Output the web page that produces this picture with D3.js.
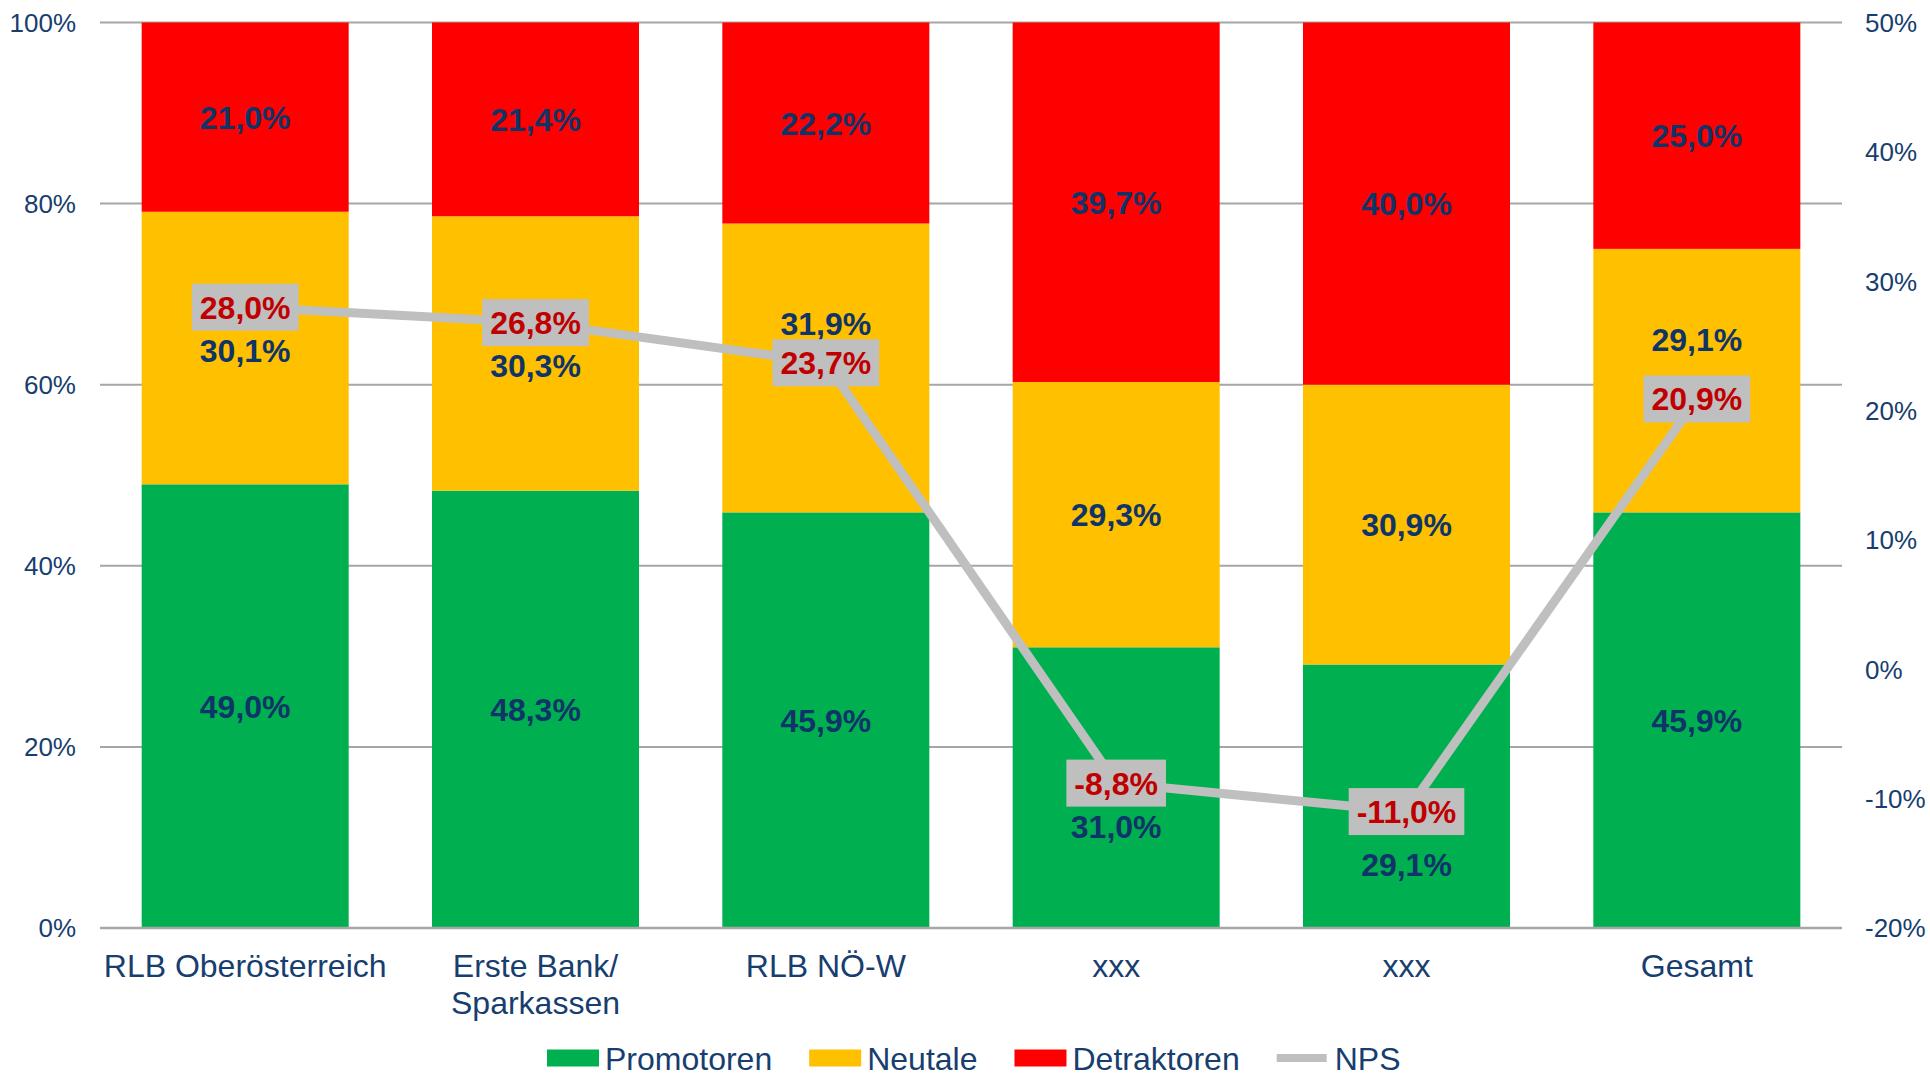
<!DOCTYPE html>
<html>
<head>
<meta charset="utf-8">
<script src="https://cdn.jsdelivr.net/npm/d3@7"></script>
<style>
  html, body { margin: 0; padding: 0; background: #ffffff; }
  svg { display: block; }
  text { font-family: "Liberation Sans", Arial, sans-serif; }
</style>
</head>
<body>
<svg id="chart" width="1930" height="1078"></svg>
<script>
// ---------------- DATA ----------------
const categories = ["RLB Oberösterreich", "Erste Bank/\nSparkassen", "RLB NÖ-W", "xxx", "xxx", "Gesamt"];
const promotoren  = [49.0, 48.3, 45.9, 31.0, 29.1, 45.9];
const neutrale    = [30.1, 30.3, 31.9, 29.3, 30.9, 29.1];
const detraktoren = [21.0, 21.4, 22.2, 39.7, 40.0, 25.0];
const nps         = [28.0, 26.8, 23.7, -8.8, -11.0, 20.9];
const leftTicks   = [0, 20, 40, 60, 80, 100];
const rightTicks  = [-20, -10, 0, 10, 20, 30, 40, 50];
const seriesNames = ["Promotoren", "Neutale", "Detraktoren", "NPS"];

// ---------------- LAYOUT / STYLE ----------------
const M = { left: 100, right: 1842, top: 22.5, bottom: 928 };
const colors = { promo: "#00B050", neutral: "#FFC000", detr: "#FF0000", nps: "#BFBFBF" };
const axisText = "#173E6E";
const labelText = "#0F3468";
const npsText = "#C00000";
// manual nudges of segment labels (px) as in the original, to avoid the NPS boxes
const neutralShift = [2.5, 12.5, -44, 0, 0, -41.6];
const promoShift   = [0, 0, 0, 38.5, 68, 0];

const fmt = v => v.toFixed(1).replace(".", ",") + "%";

const svg = d3.select("#chart");

const x = d3.scaleBand().domain(d3.range(categories.length)).range([M.left, M.right]).paddingInner(0.287).paddingOuter(0.1435);
const yL = d3.scaleLinear().domain([0, 100]).range([M.bottom, M.top]);
const yR = d3.scaleLinear().domain([-20, 50]).range([M.bottom, M.top]);

// gridlines
svg.append("g").selectAll("line").data(leftTicks).join("line")
  .attr("x1", M.left).attr("x2", M.right)
  .attr("y1", d => yL(d)).attr("y2", d => yL(d))
  .attr("stroke", "#A6A6A6").attr("stroke-width", 2);

// left axis labels
svg.append("g").selectAll("text").data(leftTicks).join("text")
  .attr("x", 76).attr("y", d => yL(d))
  .attr("dy", "0.36em")
  .attr("text-anchor", "end")
  .attr("font-size", 26).attr("fill", axisText)
  .text(d => d + "%");

// right axis labels
svg.append("g").selectAll("text").data(rightTicks).join("text")
  .attr("x", 1865).attr("y", d => yR(d))
  .attr("dy", "0.36em")
  .attr("text-anchor", "start")
  .attr("font-size", 26).attr("fill", axisText)
  .text(d => d + "%");

// stacked bars
const stackData = categories.map((c, i) => ({ i, promo: promotoren[i], neutral: neutrale[i], detr: detraktoren[i] }));
const stack = d3.stack().keys(["promo", "neutral", "detr"])(stackData);
const barG = svg.append("g");
stack.forEach(layer => {
  barG.append("g").selectAll("rect").data(layer).join("rect")
    .attr("x", d => x(d.data.i))
    .attr("width", x.bandwidth())
    .attr("y", d => yL(Math.min(100, d[1])))
    .attr("height", d => yL(d[0]) - yL(Math.min(100, d[1])))
    .attr("fill", colors[layer.key]);
});

// baseline
svg.append("line")
  .attr("x1", M.left).attr("x2", M.right)
  .attr("y1", yL(0)).attr("y2", yL(0))
  .attr("stroke", "#A6A6A6").attr("stroke-width", 2.5);

// segment labels
const segLabels = svg.append("g");
stack.forEach(layer => {
  segLabels.append("g").selectAll("text").data(layer).join("text")
    .attr("x", d => x(d.data.i) + x.bandwidth() / 2)
    .attr("y", d => {
      const c = (yL(d[0]) + yL(Math.min(100, d[1]))) / 2;
      let s = 0;
      if (layer.key === "neutral") s = neutralShift[d.data.i];
      if (layer.key === "promo") s = promoShift[d.data.i];
      return c + s;
    })
    .attr("dy", "0.36em")
    .attr("text-anchor", "middle")
    .attr("font-size", 32).attr("font-weight", "bold")
    .attr("fill", labelText)
    .text(d => fmt(d.data[layer.key]));
});

// NPS line
const line = d3.line().x((d, i) => x(i) + x.bandwidth() / 2).y(d => yR(d));
svg.append("path").datum(nps)
  .attr("d", line)
  .attr("fill", "none")
  .attr("stroke", colors.nps)
  .attr("stroke-width", 9)
  .attr("stroke-linejoin", "round");

// NPS labels with boxes
const npsG = svg.append("g");
nps.forEach((v, i) => {
  const cx = x(i) + x.bandwidth() / 2, cy = yR(v);
  const g = npsG.append("g");
  const r = g.append("rect").attr("fill", colors.nps);
  const t = g.append("text")
    .attr("x", cx).attr("y", cy).attr("dy", "0.36em")
    .attr("text-anchor", "middle")
    .attr("font-size", 32).attr("font-weight", "bold")
    .attr("fill", npsText)
    .text(fmt(v));
  const tw = t.node().getComputedTextLength();
  const bw = tw + 16, bh = 47;
  r.attr("x", cx - bw / 2).attr("y", cy - bh / 2).attr("width", bw).attr("height", bh);
});

// category labels
const catG = svg.append("g");
categories.forEach((c, i) => {
  const lines = c.split("\n");
  const t = catG.append("text")
    .attr("x", x(i) + x.bandwidth() / 2)
    .attr("y", 977)
    .attr("text-anchor", "middle")
    .attr("font-size", 32).attr("fill", axisText);
  lines.forEach((ln, k) => {
    t.append("tspan").attr("x", x(i) + x.bandwidth() / 2).attr("y", 977 + k * 37).text(ln);
  });
});

// legend
const legG = svg.append("g");
let lx = 547;
const legY = 1058;
const legColors = [colors.promo, colors.neutral, colors.detr, colors.nps];
seriesNames.forEach((name, k) => {
  if (k < 3) {
    legG.append("rect").attr("x", lx).attr("y", legY - 8.5).attr("width", 52).attr("height", 17).attr("fill", legColors[k]);
  } else {
    legG.append("line").attr("x1", lx).attr("x2", lx + 50).attr("y1", legY).attr("y2", legY)
      .attr("stroke", legColors[k]).attr("stroke-width", 8);
  }
  const t = legG.append("text")
    .attr("x", lx + 58).attr("y", legY).attr("dy", "0.36em")
    .attr("font-size", 32).attr("fill", axisText)
    .text(name);
  lx = lx + 58 + t.node().getComputedTextLength() + 37;
});
</script>
</body>
</html>
